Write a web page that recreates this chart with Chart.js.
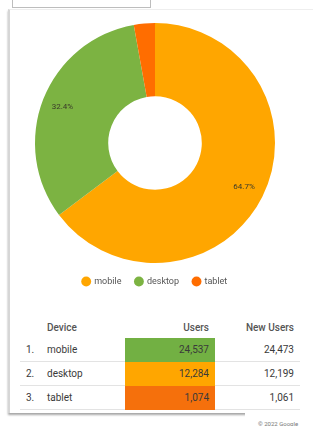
<!DOCTYPE html>
<html><head><meta charset="utf-8">
<script src="https://cdn.jsdelivr.net/npm/chart.js@4.4.0/dist/chart.umd.min.js"></script>
<style>
html,body{margin:0;padding:0;background:#fff;width:313px;height:426px;overflow:hidden;font-family:Roboto,"Open Sans",sans-serif;}
#topbox{position:absolute;left:12px;top:-10px;width:137px;height:16px;border:1px solid #bdbdbd;background:#fff;}
#card{position:absolute;left:8px;top:9px;width:330px;height:403px;background:#fff;border-left:2px solid #d6d6d6;border-top:1px solid #eee;box-shadow:0px 2px 2px rgba(0,0,0,0.35);}
#wrap{position:absolute;left:0;top:23px;width:313px;height:273px;}
table{position:absolute;left:20px;top:316px;border-collapse:collapse;font-size:10px;color:#3a3a3a;}
th{font-weight:500;color:#555;height:22px;padding:0;}
td{height:23px;padding:0;border-bottom:1px solid #e3e3e3;}
#copy{position:absolute;left:245px;top:411px;width:70px;height:16px;background:#fff;font-size:6px;color:#777;}
#copy span{position:absolute;left:13px;top:9px;white-space:nowrap;}
</style></head><body>
<div id="topbox"></div>
<div id="card"></div>
<div id="wrap"><canvas id="c"></canvas></div>
<table id="t"></table>
<div id="copy"><span>© 2022 Google</span></div>
<script>
const devices = ["mobile", "desktop", "tablet"];
const users = [24537, 12284, 1074];
const newUsers = [24473, 12199, 1061];
const sliceColors = ["#ffa600", "#7cb342", "#ff6d00"];
const userCellColors = ["#72b043", "#ffa600", "#f5700c"];

const total = users.reduce((a,b)=>a+b,0);
const pctLabels = {
  id:'pctLabels',
  afterDatasetsDraw(chart){
    const ctx = chart.ctx;
    const meta = chart.getDatasetMeta(0);
    ctx.save();
    ctx.font = '8px Roboto';
    ctx.fillStyle = '#3a3a2a';
    ctx.textAlign = 'center';
    ctx.textBaseline = 'middle';
    meta.data.forEach((arc,i)=>{
      const p = users[i]/total;
      if (p < 0.05) return;
      const {startAngle,endAngle,x,y,innerRadius,outerRadius} = arc.getProps(['startAngle','endAngle','x','y','innerRadius','outerRadius'],true);
      const a = (startAngle+endAngle)/2;
      const r = innerRadius + (outerRadius-innerRadius)*0.72;
      ctx.fillText((p*100).toFixed(1)+'%', x+Math.cos(a)*r, y+Math.sin(a)*r);
    });
    ctx.restore();
  }
};

new Chart(document.getElementById('c'), {
  type:'doughnut',
  data:{labels:devices, datasets:[{data:users, backgroundColor:sliceColors, borderWidth:0, hoverOffset:0}]},
  options:{
    responsive:true, maintainAspectRatio:false, animation:false,
    cutout:'39%',
    layout:{padding:{left:0,right:3,top:0,bottom:0}},
    plugins:{
      tooltip:{enabled:false},
      legend:{position:'bottom',labels:{usePointStyle:true,pointStyle:'circle',boxWidth:7,boxHeight:7,padding:14,color:'#555',font:{family:'Roboto',size:9}}}
    }
  },
  plugins:[pctLabels]
});

const t = document.getElementById('t');
let h = '<tr><th style="width:27px"></th><th style="width:78px;text-align:left">Device</th><th style="width:84px;text-align:right;padding-right:6px">Users</th><th style="width:79px;text-align:right;padding-right:6px">New Users</th></tr>';
devices.forEach((d,i)=>{
  h += '<tr><td style="padding-left:6px">'+(i+1)+'.</td><td>'+d+'</td><td style="text-align:right;padding-right:6px;background:'+userCellColors[i]+';border-bottom-color:'+userCellColors[i]+'">'+users[i].toLocaleString('en-US')+'</td><td style="text-align:right;padding-right:6px">'+newUsers[i].toLocaleString('en-US')+'</td></tr>';
});
t.innerHTML = h;
</script>
</body></html>
